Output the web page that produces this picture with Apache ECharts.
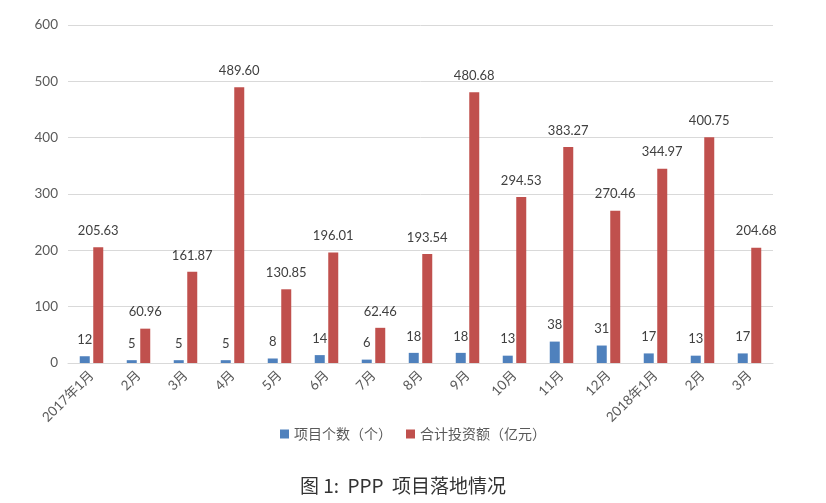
<!DOCTYPE html>
<html>
<head>
<meta charset="utf-8">
<script src="https://cdn.jsdelivr.net/npm/echarts@6/dist/echarts.min.js"></script>
<style>
  html, body { margin: 0; padding: 0; background: #fff; }
  #chart { width: 826px; height: 503px; }
</style>
</head>
<body>
<div id="chart"></div>
<script>
// 月份
const months = ['2017年1月', '2月', '3月', '4月', '5月', '6月', '7月', '8月', '9月',
  '10月', '11月', '12月', '2018年1月', '2月', '3月'];
// 项目个数（个）
const projectCount = [12, 5, 5, 5, 8, 14, 6, 18, 18, 13, 38, 31, 17, 13, 17];
// 合计投资额（亿元）
const investment = [205.63, 60.96, 161.87, 489.60, 130.85, 196.01, 62.46, 193.54,
  480.68, 294.53, 383.27, 270.46, 344.97, 400.75, 204.68];
const yTicks = { min: 0, max: 600, interval: 100 };

const textFont = 'Lato, "Noto Sans CJK SC", sans-serif';

const myChart = echarts.init(document.getElementById('chart'));
myChart.setOption({
  animation: false,
  title: {
    text: '图 1:  PPP  项目落地情况',
    left: 398,
    textAlign: 'center',
    bottom: 3,
    textStyle: {
      fontFamily: '"Noto Sans CJK SC", sans-serif',
      fontWeight: 'normal',
      fontSize: 19,
      color: '#333'
    }
  },
  legend: {
    top: 422,
    left: 'center',
    icon: 'rect',
    itemWidth: 9,
    itemHeight: 9,
    itemGap: 14,
    textStyle: {
      fontFamily: '"Noto Sans CJK SC", sans-serif',
      fontSize: 14,
      color: '#595959'
    }
  },
  grid: { left: 68, right: 53, top: 25, bottom: 140 },
  xAxis: {
    type: 'category',
    data: months,
    axisLine: { lineStyle: { color: '#d9d9d9' } },
    axisTick: { show: false },
    axisLabel: {
      rotate: 45,
      margin: 10,
      interval: 0,
      fontFamily: textFont,
      fontSize: 13.5,
      color: '#595959'
    }
  },
  yAxis: {
    type: 'value',
    min: yTicks.min,
    max: yTicks.max,
    interval: yTicks.interval,
    axisLine: { show: false },
    axisTick: { show: false },
    axisLabel: { fontFamily: textFont, fontSize: 13.5, color: '#595959', margin: 10 },
    splitLine: { lineStyle: { color: '#d9d9d9' } }
  },
  series: [
    {
      name: '项目个数（个）',
      type: 'bar',
      data: projectCount,
      barWidth: 10,
      barGap: '35%',
      itemStyle: { color: '#4F81BD' },
      label: {
        show: true,
        position: 'top',
        distance: 10,
        fontFamily: textFont,
        fontSize: 13,
        color: '#404040'
      }
    },
    {
      name: '合计投资额（亿元）',
      type: 'bar',
      data: investment,
      barWidth: 10,
      itemStyle: { color: '#C0504D' },
      label: {
        show: true,
        position: 'top',
        distance: 10,
        fontFamily: textFont,
        fontSize: 13,
        color: '#404040',
        formatter: (p) => p.value.toFixed(2)
      }
    }
  ]
});
</script>
</body>
</html>
